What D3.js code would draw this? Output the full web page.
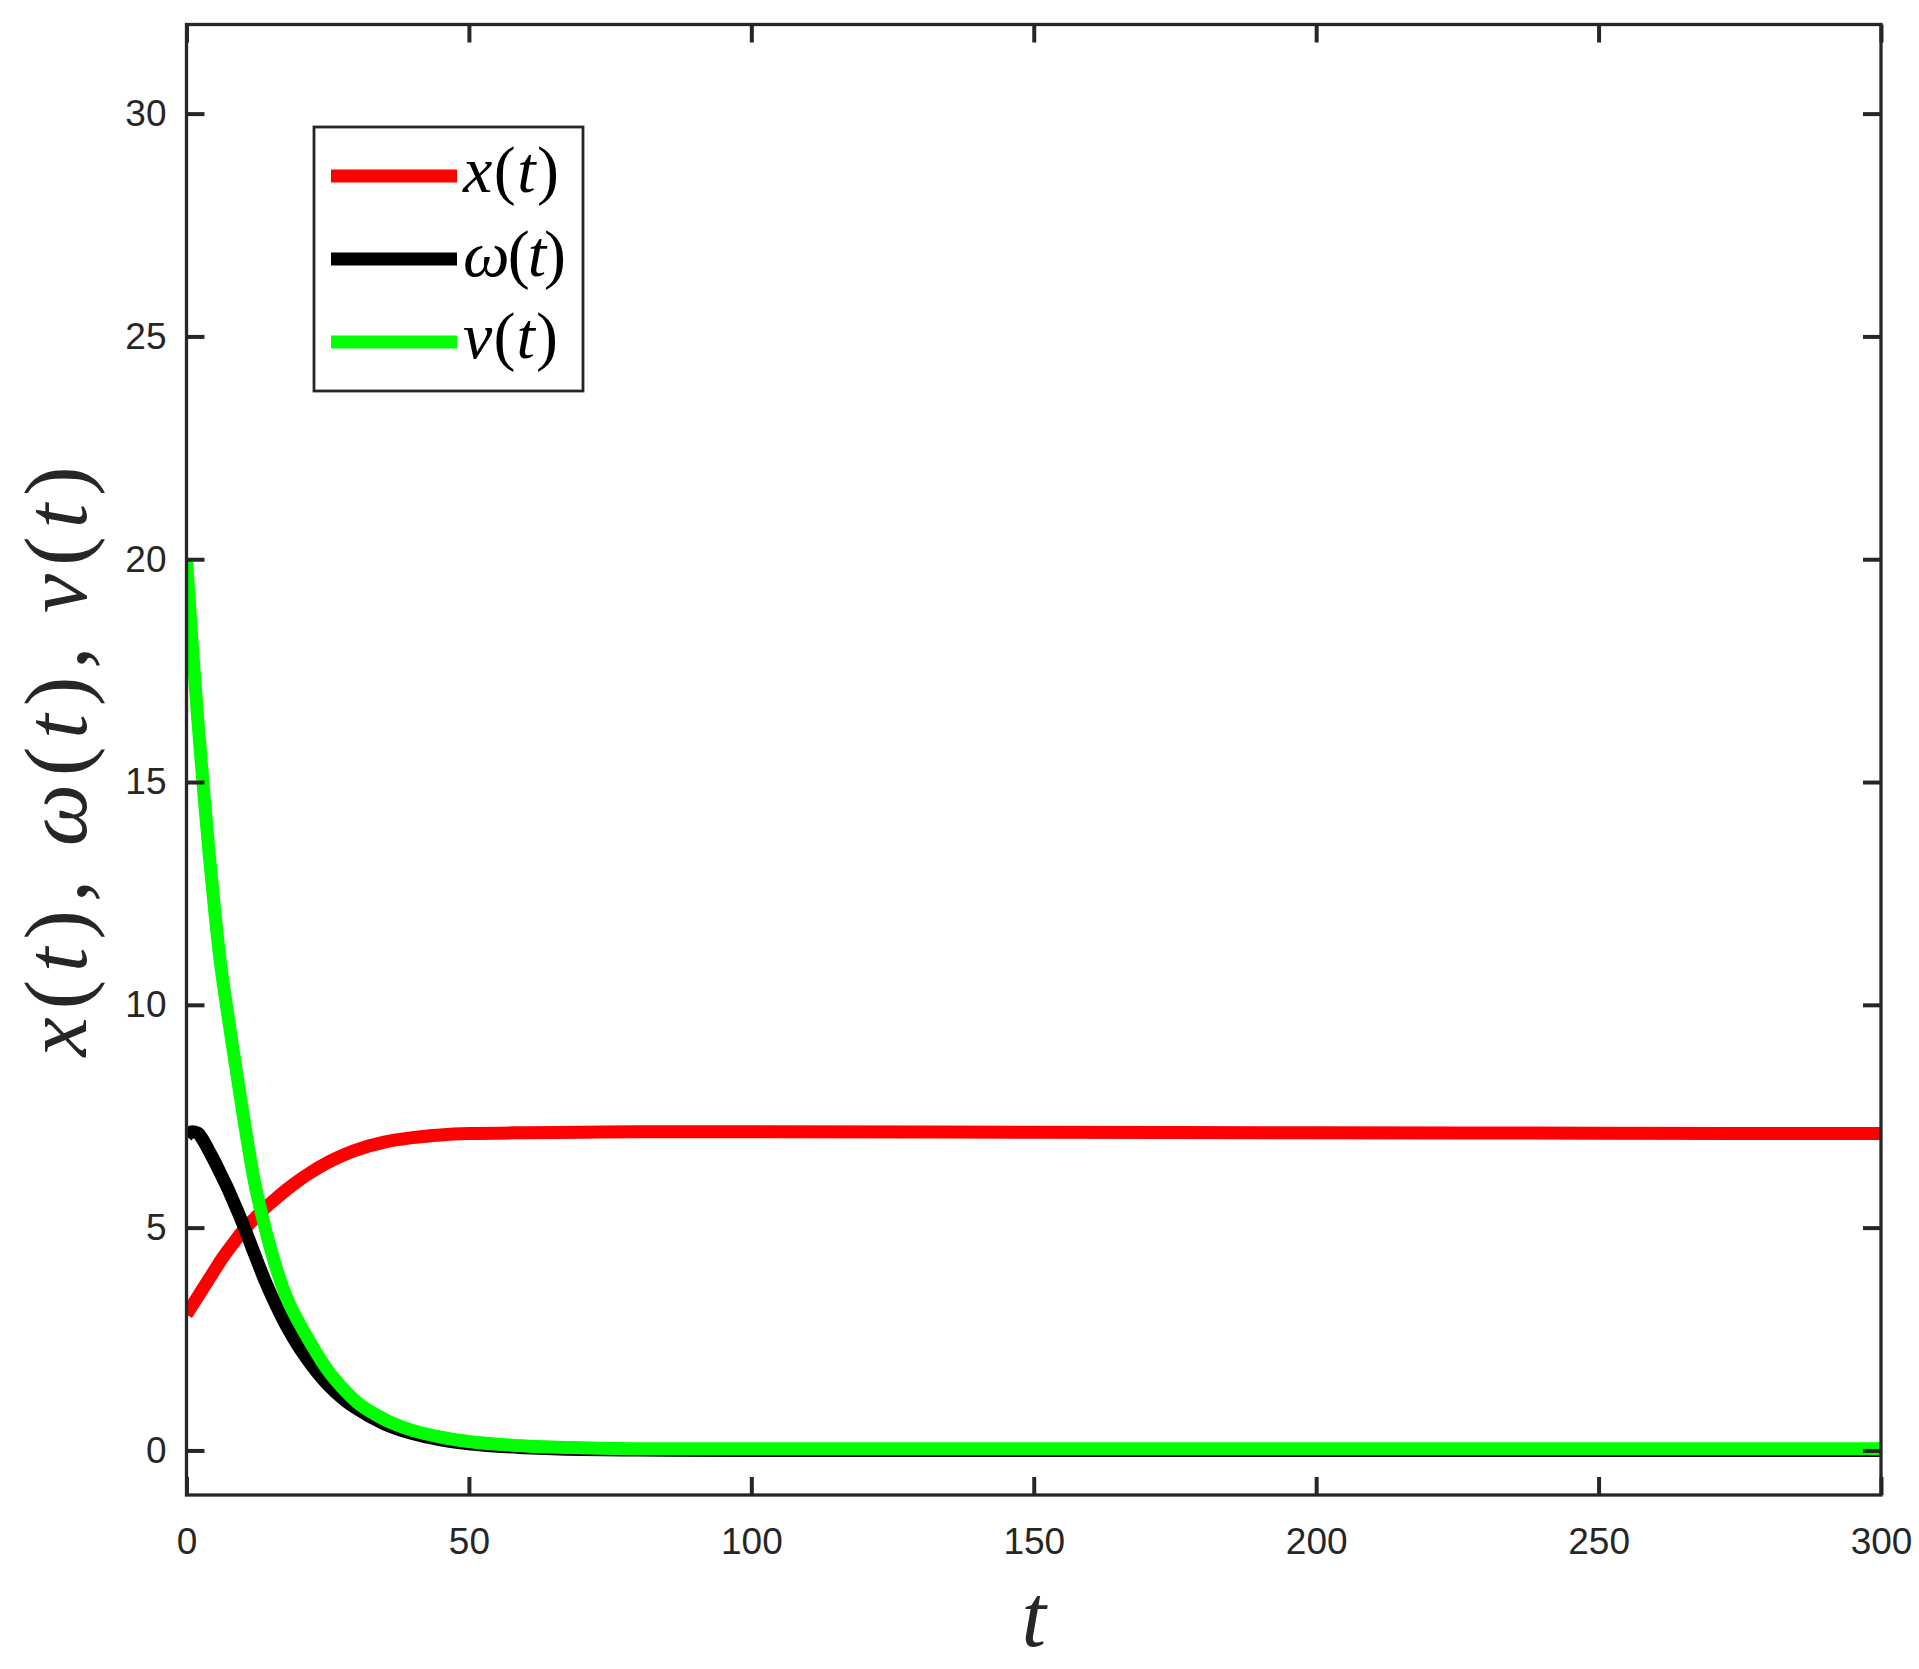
<!DOCTYPE html>
<html>
<head>
<meta charset="utf-8">
<script src="https://cdn.jsdelivr.net/npm/d3@7"></script>
<style>
  html, body { margin: 0; padding: 0; background: #fff; }
  svg { display: block; }
</style>
</head>
<body>
<svg id="chart" width="1919" height="1669"></svg>
<script>
// ---- data ----
const tValues = [0,1,2,3,4,5,6,7,8,10,12,14,16,18,20,22,25,28,30,35,40,45,50,60,70,80,100,150,200,250,300];
const xSeries = [3.05,3.25,3.45,3.65,3.85,4.05,4.25,4.43,4.6,4.93,5.2,5.45,5.67,5.88,6.07,6.24,6.46,6.64,6.74,6.92,7.02,7.08,7.11,7.13,7.14,7.15,7.15,7.14,7.13,7.12,7.11];
const omegaSeries = [7.05,7.15,7.12,6.95,6.72,6.48,6.22,5.96,5.68,5.08,4.42,3.78,3.22,2.72,2.3,1.94,1.48,1.13,0.95,0.6,0.38,0.24,0.15,0.06,0.02,0.01,0,0,0,0,0];
const vSeries = [20,18.1,16.4,14.85,13.4,12.1,10.95,10.05,9.2,7.55,6.05,4.95,4.05,3.35,2.85,2.4,1.8,1.35,1.1,0.7,0.45,0.3,0.2,0.1,0.06,0.04,0.04,0.04,0.04,0.04,0.04];
const xTicks = [0,50,100,150,200,250,300];
const yTicks = [0,5,10,15,20,25,30];
const seriesNames = ["x", "ω", "v"];
const seriesColors = ["#ff0000", "#000000", "#00ff00"];

// ---- layout ----
const L = 186.5, R = 1881, T = 24.5, B = 1495;
const svg = d3.select("#chart");
const xScale = d3.scaleLinear().domain([0, 300]).range([L, R]);
const yScale = d3.scaleLinear().domain([-1, 32]).range([B, T]);
const axisColor = "#262626";
const tickFont = "'Liberation Sans', Arial, Helvetica, sans-serif";

svg.append("defs").append("clipPath").attr("id", "clip")
  .append("rect").attr("x", L).attr("y", T).attr("width", R - L).attr("height", B - T);

// ---- series ----
const series = [xSeries, omegaSeries, vSeries];
const line = d3.line().x(d => xScale(d[0])).y(d => yScale(d[1])).curve(d3.curveMonotoneX);
const gLines = svg.append("g").attr("clip-path", "url(#clip)");
series.forEach((vals, i) => {
  gLines.append("path")
    .datum(tValues.map((t, k) => [t, vals[k]]))
    .attr("d", line)
    .attr("fill", "none")
    .attr("stroke", seriesColors[i])
    .attr("stroke-width", 13)
    .attr("stroke-linejoin", "round");
});

// ---- axes ----
function styleAxis(g, showLabels) {
  g.select(".domain").remove();
  g.selectAll(".tick line").attr("stroke", axisColor).attr("stroke-width", 4);
  g.selectAll(".tick text")
    .attr("fill", axisColor)
    .style("font-family", tickFont)
    .style("font-size", "37px");
  if (!showLabels) g.selectAll(".tick text").remove();
}
svg.append("g").attr("transform", `translate(0,${B})`)
  .call(d3.axisBottom(xScale).tickValues(xTicks).tickFormat(d3.format("d")).tickSizeInner(-18).tickSizeOuter(0).tickPadding(33))
  .call(g => styleAxis(g, true));
svg.append("g").attr("transform", `translate(0,${T})`)
  .call(d3.axisTop(xScale).tickValues(xTicks).tickSizeInner(-18).tickSizeOuter(0))
  .call(g => styleAxis(g, false));
svg.append("g").attr("transform", `translate(${L},0)`)
  .call(d3.axisLeft(yScale).tickValues(yTicks).tickFormat(d3.format("d")).tickSizeInner(-18).tickSizeOuter(0).tickPadding(20))
  .call(g => styleAxis(g, true));
svg.append("g").attr("transform", `translate(${R},0)`)
  .call(d3.axisRight(yScale).tickValues(yTicks).tickSizeInner(-18).tickSizeOuter(0))
  .call(g => styleAxis(g, false));

// frame
svg.append("rect").attr("x", L).attr("y", T).attr("width", R - L).attr("height", B - T)
  .attr("fill", "none").attr("stroke", axisColor).attr("stroke-width", 3.3);

// ---- math-style text helper ----
const mathFont = "'Liberation Serif', 'Times New Roman', serif";
function mathText(sel, parts) {
  parts.forEach(p => {
    sel.append("tspan").text(p[0]).style("font-style", p[1] ? "italic" : "normal");
  });
}

// x label
const xl = svg.append("text")
  .attr("x", (L + R) / 2).attr("y", 1646)
  .attr("text-anchor", "middle")
  .style("font-family", mathFont).style("font-size", "88px").attr("fill", axisColor);
mathText(xl, [["t", true]]);

// y label
const yl = svg.append("text")
  .attr("transform", `translate(86,${(465 + 1058) / 2}) rotate(-90)`)
  .attr("text-anchor", "middle")
  .attr("textLength", 590).attr("lengthAdjust", "spacing")
  .style("font-family", mathFont).style("font-size", "88px").attr("fill", axisColor);
mathText(yl, [["x", true], ["(", false], ["t", true], [")", false], [",", false], ["\u2009", false],
              ["ω", true], ["(", false], ["t", true], [")", false], [",", false], ["\u2009", false],
              ["v", true], ["(", false], ["t", true], [")", false]]);

// ---- legend ----
const leg = svg.append("g");
leg.append("rect").attr("x", 314).attr("y", 127).attr("width", 269).attr("height", 264)
  .attr("fill", "#fff").attr("stroke", axisColor).attr("stroke-width", 2.8);
const legY = [176, 259, 342];
const legBase = [192, 276, 358];
const legLen = [96, 103, 95];
seriesNames.forEach((name, i) => {
  leg.append("line").attr("x1", 331).attr("x2", 457).attr("y1", legY[i]).attr("y2", legY[i])
    .attr("stroke", seriesColors[i]).attr("stroke-width", 13);
  const tx = leg.append("text").attr("x", 463).attr("y", legBase[i])
    .attr("textLength", legLen[i]).attr("lengthAdjust", "spacing")
    .style("font-family", mathFont).style("font-size", "66px").attr("fill", "#000");
  mathText(tx, [[name, true], ["(", false], ["t", true], [")", false]]);
});
</script>
</body>
</html>
